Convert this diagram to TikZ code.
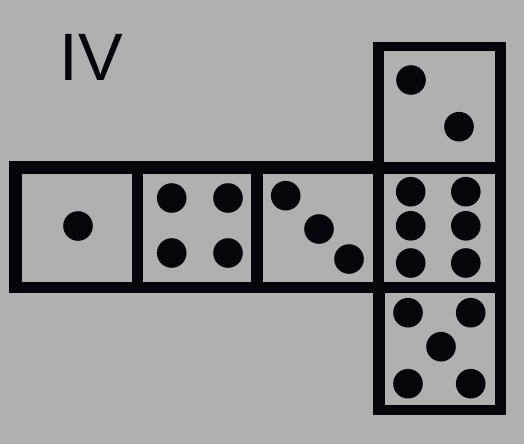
\documentclass[tikz,border=0pt]{standalone}
\usepackage{fontspec}
\setmainfont{Liberation Sans}
\definecolor{bg}{RGB}{176,176,176}
\definecolor{ink}{RGB}{5,5,12}
\begin{document}
\begin{tikzpicture}[x=1pt,y=-1pt,
  frame/.style={fill=ink},
  face/.style={fill=bg},
  pip/.style={fill=ink},
  label/.style={font=\fontsize{67}{67}\selectfont, text=ink, inner sep=0pt, anchor=base west}]
\useasboundingbox (0,0) rectangle (524,444);
\fill[bg] (0,0) rectangle (524,444);
% black frames
\fill[frame] (9,161) rectangle (506,293);
\fill[frame] (373,42) rectangle (506,174);
\fill[frame] (373,282) rectangle (506,415);
% faces
\fill[face] (22,174) rectangle (132,282);
\fill[face] (143,174) rectangle (251,282);
\fill[face] (263,174) rectangle (373,282);
\fill[face] (384,174) rectangle (495,282);
\fill[face] (384,51) rectangle (495,162);
\fill[face] (385,293) rectangle (495,405);
% pips: one
\fill[pip] (78,226) circle (14.8);
% four
\foreach \x in {171.7,228} \foreach \y in {198,253} \fill[pip] (\x,\y) circle (14.8);
% three
\fill[pip] (285.7,195.7) circle (14.8);
\fill[pip] (319,229) circle (14.8);
\fill[pip] (349,259) circle (14.8);
% two
\fill[pip] (411,80) circle (14.8);
\fill[pip] (459,126.7) circle (14.8);
% six
\foreach \x in {410.7,465.8} \foreach \y in {191.7,225.8,263} \fill[pip] (\x,\y) circle (14.8);
% five
\foreach \x in {408,470.7} \foreach \y in {312.7,383.7} \fill[pip] (\x,\y) circle (14.8);
\fill[pip] (441,346.7) circle (14.8);
% label
\node[label] (num) at (59.7,80) {IV};
\end{tikzpicture}
\end{document}
